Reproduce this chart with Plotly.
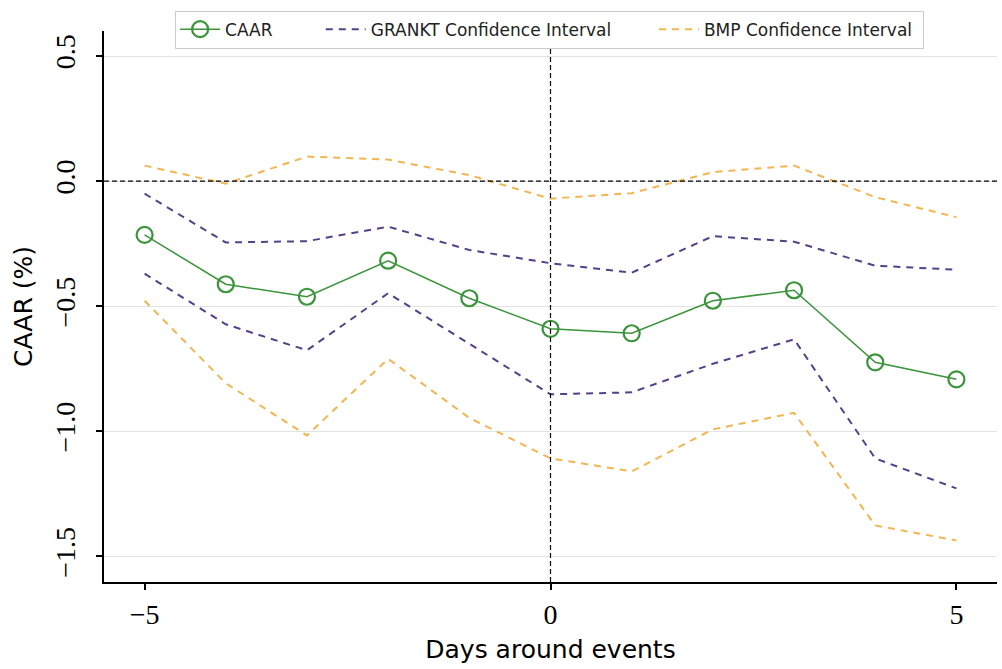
import plotly.graph_objects as go

days = [-5, -4, -3, -2, -1, 0, 1, 2, 3, 4, 5]
caar = [-0.215, -0.412, -0.462, -0.318, -0.468, -0.590, -0.608, -0.478, -0.436, -0.724, -0.792]
grankt_upper = [-0.050, -0.245, -0.240, -0.182, -0.275, -0.328, -0.366, -0.220, -0.242, -0.338, -0.354]
grankt_lower = [-0.370, -0.572, -0.676, -0.448, -0.650, -0.852, -0.844, -0.730, -0.632, -1.108, -1.228]
bmp_upper = [0.062, -0.010, 0.098, 0.086, 0.024, -0.070, -0.048, 0.036, 0.062, -0.064, -0.144]
bmp_lower = [-0.478, -0.808, -1.016, -0.710, -0.946, -1.108, -1.160, -0.992, -0.926, -1.376, -1.436]

ytick_vals = [0.5, 0.0, -0.5, -1.0, -1.5]
ytick_text = ["0.5", "0.0", "\u22120.5", "\u22121.0", "\u22121.5"]
xtick_vals = [-5, 0, 5]
xtick_text = ["\u22125", "0", "5"]

GREEN = "#3a943a"
PURPLE = "#54418a"
ORANGE = "#f3b551"
NB = "\u00a0"

fig = go.Figure()
fig.add_trace(go.Scatter(x=days, y=caar, mode="lines+markers", name="CAAR" + NB * 8,
                         line=dict(color=GREEN, width=1.5),
                         marker=dict(symbol="circle-open", size=16, color=GREEN,
                                     line=dict(width=2.2, color=GREEN))))
fig.add_trace(go.Scatter(x=days, y=grankt_upper, mode="lines", name="GRANKT Confidence Interval" + NB * 7,
                         line=dict(color=PURPLE, width=2, dash="7px,6px"), legendgroup="g"))
fig.add_trace(go.Scatter(x=days, y=grankt_lower, mode="lines", name="GRANKT Confidence Interval",
                         line=dict(color=PURPLE, width=2, dash="7px,6px"), legendgroup="g",
                         showlegend=False))
fig.add_trace(go.Scatter(x=days, y=bmp_upper, mode="lines", name="BMP Confidence Interval" + NB,
                         line=dict(color=ORANGE, width=2, dash="7px,6px"), legendgroup="b"))
fig.add_trace(go.Scatter(x=days, y=bmp_lower, mode="lines", name="BMP Confidence Interval",
                         line=dict(color=ORANGE, width=2, dash="7px,6px"), legendgroup="b",
                         showlegend=False))

fig.add_shape(type="line", xref="paper", yref="y", x0=0, x1=1, y0=0, y1=0,
              line=dict(color="black", width=1.2, dash="5px,3px"))
fig.add_shape(type="line", xref="x", yref="paper", x0=0, x1=0, y0=0, y1=1,
              line=dict(color="black", width=1.2, dash="5px,3px"))

fig.update_layout(
    width=1002, height=669,
    margin=dict(l=104, r=5, t=31, b=87, autoexpand=False),
    paper_bgcolor="white", plot_bgcolor="white",
    showlegend=True,
    legend=dict(orientation="h", x=0.499, xanchor="center", y=1.037, yanchor="top",
                bgcolor="white", bordercolor="#cccccc", borderwidth=1,
                font=dict(family="DejaVu Sans", size=17, color="#222222"),
                itemwidth=40),
    xaxis=dict(range=[-5.5, 5.5], tickvals=xtick_vals, ticktext=xtick_text, automargin=False,
               showgrid=False, zeroline=False, showline=True, linecolor="black", linewidth=2,
               ticks="outside", ticklen=6, tickwidth=1.5, tickcolor="black",
               tickfont=dict(family="Liberation Serif", size=28, color="black"),
               title=dict(text="Days around events", standoff=12,
                          font=dict(family="DejaVu Sans", size=25, color="black"))),
    yaxis=dict(range=[-1.602, 0.6], tickvals=ytick_vals, ticktext=ytick_text, automargin=False,
               tickangle=-90, ticklabelstandoff=10,
               showgrid=True, gridcolor="#e3e3e3", gridwidth=1,
               zeroline=False, showline=True, linecolor="black", linewidth=2,
               ticks="outside", ticklen=6, tickwidth=1.5, tickcolor="black",
               tickfont=dict(family="Liberation Serif", size=28, color="black"),
               title=dict(text="CAAR (%)", standoff=10,
                          font=dict(family="DejaVu Sans", size=25, color="black"))),
)

fig.write_html("out.html", config={"displayModeBar": False},
               post_script="document.body.style.margin='0';document.body.style.overflow='hidden';")
